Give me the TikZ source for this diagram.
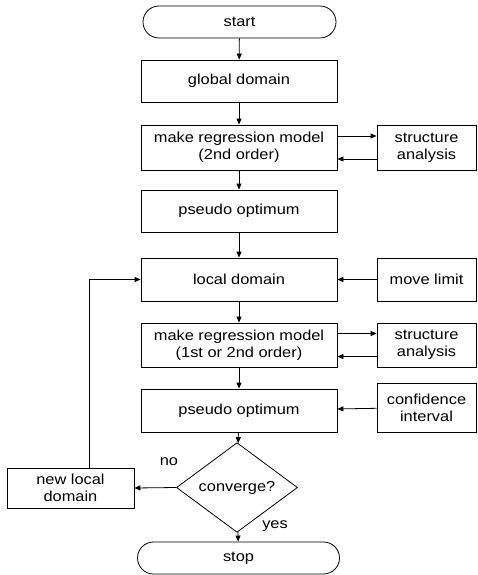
\documentclass[tikz,border=0pt]{standalone}
\usepackage{fontspec}
\setmainfont{Liberation Sans}[FakeStretch=1.13]
\usetikzlibrary{arrows.meta,shapes.geometric}
\begin{document}
\begin{tikzpicture}[x=1pt,y=-1pt,
  font=\fontsize{14.5}{17}\selectfont,
  every node/.style={align=center, inner sep=0pt},
  mainbox/.style={draw, line width=0.8pt, minimum width=196pt},
  sidebox/.style={draw, line width=0.8pt, minimum width=99pt},
  terminal/.style={draw, line width=0.8pt, rounded corners=16pt, minimum height=32pt},
  decision/.style={draw, line width=0.8pt, diamond, minimum width=121pt, minimum height=65pt},
  arr/.style={line width=0.8pt, -{Triangle[length=6pt,width=5pt]}},
  ln/.style={line width=0.8pt}]
\useasboundingbox (0,0) rectangle (477,575);
% main column
\node[terminal, minimum width=193pt] (start) at (239.5,22) {start};
\node[mainbox, minimum height=42pt] (global) at (239,81) {global domain};
\node[mainbox, minimum height=45pt] (make1) at (239,147.5) {make regression model\\(2nd order)};
\node[mainbox, minimum height=42pt] (pseudo1) at (239,211) {pseudo optimum};
\node[mainbox, minimum height=43pt] (local) at (239,279.5) {local domain};
\node[mainbox, minimum height=44pt] (make2) at (239,345) {make regression model\\(1st or 2nd order)};
\node[mainbox, minimum height=43pt] (pseudo2) at (239,410.5) {pseudo optimum};
\node[decision] (conv) at (237,487.5) {converge?};
\node[terminal, minimum width=202pt] (stop) at (238.5,558) {stop};
% side column
\node[sidebox, minimum height=45pt] (sa1) at (426.5,147.5) {structure\\analysis};
\node[sidebox, minimum height=43pt] (move) at (426.5,279.5) {move limit};
\node[sidebox, minimum height=44pt] (sa2) at (426.5,345) {structure\\analysis};
\node[sidebox, minimum height=49pt] (ci) at (426.5,407.5) {confidence\\interval};
% left
\node[draw, line width=0.8pt, minimum width=127pt, minimum height=40pt] (newloc) at (70.5,488) {new local\\domain};
% labels
\node (no) at (169,462) {no};
\node (yes) at (275,526) {yes};
% connectors
\draw[arr] (start) -- (global);
\draw[arr] (global) -- (make1);
\draw[arr] (make1) -- (pseudo1);
\draw[arr] (pseudo1) -- (local);
\draw[arr] (local) -- (make2);
\draw[arr] (make2) -- (pseudo2);
\draw[arr] (pseudo2) -- (conv);
\draw[arr] (conv) -- (stop);
\draw[arr] ([yshift=11.5pt]make1.east) -- ([yshift=11.5pt]sa1.west);
\draw[arr] ([yshift=-11.5pt]sa1.west) -- ([yshift=-11.5pt]make1.east);
\draw[arr] ([yshift=11.5pt]make2.east) -- ([yshift=11.5pt]sa2.west);
\draw[arr] ([yshift=-11.5pt]sa2.west) -- ([yshift=-11.5pt]make2.east);
\draw[arr] (move) -- (local);
\draw[arr] (ci) -- (pseudo2);
\draw[arr] (conv.west) -- (newloc.east);
\coordinate (fb) at (89,280);
\draw[arr] (newloc.north -| fb) -- (fb |- local.west) -- (local.west);
\end{tikzpicture}
\end{document}
